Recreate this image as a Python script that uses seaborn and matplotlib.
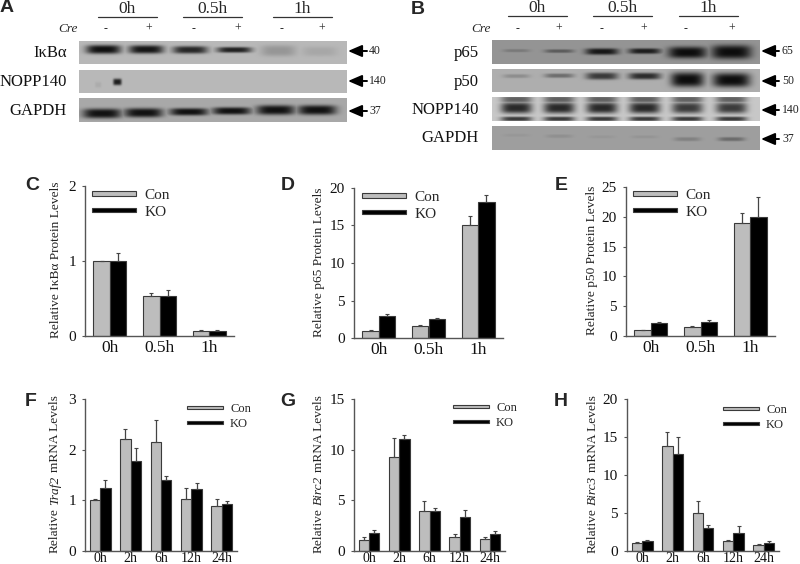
import numpy as np
import pandas as pd
import matplotlib
matplotlib.use('Agg')
import matplotlib.pyplot as plt
import seaborn as sns

W, H = 800, 564

sns.set_style('ticks')
plt.rcParams['font.family'] = ['Liberation Serif', 'DejaVu Serif']

# dane do wykresow
groups = ['Con', 'KO']
t3 = ['0h', '0.5h', '1h']
t5 = ['0h', '2h', '6h', '12h', '24h']

c_con = [1.0, 0.53, 0.07]
c_ko = [1.0, 0.53, 0.07]
c_con_err = [0.0, 0.05, 0.01]
c_ko_err = [0.11, 0.09, 0.015]

d_con = [1.0, 1.55, 15.1]
d_ko = [3.0, 2.6, 18.1]
d_con_err = [0.1, 0.25, 1.2]
d_ko_err = [0.2, 0.1, 0.9]

e_con = [1.0, 1.45, 19.0]
e_ko = [2.1, 2.4, 20.0]
e_con_err = [0.05, 0.3, 1.6]
e_ko_err = [0.2, 0.3, 3.3]

f_con = [1.0, 2.22, 2.15, 1.03, 0.88]
f_ko = [1.25, 1.78, 1.40, 1.22, 0.92]
f_con_err = [0.02, 0.18, 0.43, 0.22, 0.14]
f_ko_err = [0.15, 0.25, 0.08, 0.13, 0.07]

g_con = [1.1, 9.25, 3.95, 1.4, 1.2]
g_ko = [1.75, 11.1, 3.95, 3.4, 1.67]
g_con_err = [0.25, 1.95, 1.0, 0.27, 0.15]
g_ko_err = [0.35, 0.3, 0.3, 0.65, 0.3]

h_con = [1.05, 13.8, 5.0, 1.3, 0.85]
h_ko = [1.3, 12.8, 3.0, 2.4, 1.1]
h_con_err = [0.15, 1.8, 1.6, 0.12, 0.1]
h_ko_err = [0.15, 2.2, 0.4, 0.85, 0.2]

# bloty: tlo, polozenie prazkow (0-1), ciemnosc, szerokosc, wysokosc, y
a_lanes = [0.09, 0.25, 0.415, 0.58, 0.745, 0.90]
b_lanes = [0.09, 0.25, 0.41, 0.57, 0.73, 0.895]

blots_a = {
    'IκBα': (0.72, a_lanes, [0.98, 0.95, 0.85, 0.88, 0.20, 0.10], 0.065, [0.2, 0.19, 0.17, 0.13, 0.25, 0.22], [0.36, 0.36, 0.38, 0.38, 0.42, 0.45]),
    'NOPP140': (0.72, [0.07, 0.142], [0.07, 0.9], [0.012, 0.016], [0.13, 0.15], [0.65, 0.52]),
    'GAPDH': (0.66, [0.085, 0.24, 0.41, 0.57, 0.735, 0.89], [0.97] * 6, 0.072, [0.21, 0.2, 0.16, 0.16, 0.21, 0.21], [0.65, 0.62, 0.58, 0.54, 0.50, 0.50]),
}
blots_b = {
    'p65': (0.58, b_lanes, [0.2, 0.42, 0.93, 0.88, 1.0, 1.0], [0.05, 0.055, 0.062, 0.06, 0.072, 0.075], [0.07, 0.08, 0.14, 0.12, 0.25, 0.3], [0.44, 0.46, 0.48, 0.46, 0.52, 0.50]),
    'p50': (0.68, b_lanes, [0.2, 0.4, 0.72, 0.8, 1.0, 1.0], [0.05, 0.055, 0.06, 0.06, 0.062, 0.07], [0.09, 0.1, 0.16, 0.15, 0.33, 0.32], [0.30, 0.28, 0.30, 0.30, 0.46, 0.48]),
    'NOPP140': (0.78, b_lanes * 3, [0.85, 0.85, 0.85, 0.85, 0.75, 0.75] + [0.55] * 6 + [0.75] * 6, 0.058,
                [0.24] * 6 + [0.16] * 6 + [0.1] * 6, [0.45] * 6 + [0.08] * 6 + [0.93] * 6),
    'GAPDH': (0.62, b_lanes, [0.05, 0.10, 0.05, 0.07, 0.2, 0.35], 0.05, [0.07, 0.08, 0.07, 0.07, 0.09, 0.09], [0.38, 0.42, 0.45, 0.45, 0.55, 0.55]),
}

fig = plt.figure(figsize=(W / 100, H / 100), dpi=100, facecolor='white')

# warstwa z opisami, wspolrzedne w pikselach
ov = fig.add_axes([0, 0, 1, 1], zorder=10)
ov.set_xlim(0, W)
ov.set_ylim(H, 0)
ov.axis('off')
ov.patch.set_alpha(0)


def px_axes(x0, y0, x1, y1):
    # y liczone od gory, jak na obrazku
    return fig.add_axes([x0 / W, 1 - y1 / H, (x1 - x0) / W, (y1 - y0) / H])


def draw_blot(box, spec):
    bg, xs, dark, wid, hgt, yc = spec
    n = len(xs)
    dark = np.asarray(dark, float)
    wid = np.broadcast_to(wid, n)
    hgt = np.broadcast_to(hgt, n)
    yc = np.broadcast_to(yc, n)
    nx, ny = box[2] - box[0], box[3] - box[1]
    xx, yy = np.meshgrid(np.linspace(0, 1, nx), np.linspace(0, 1, ny))
    ink = np.zeros_like(xx)
    for i in range(n):
        part = dark[i] * np.exp(-((xx - xs[i]) / wid[i]) ** 4 - np.abs((yy - yc[i]) / hgt[i]) ** 3)
        ink = np.maximum(ink, part)
    img = bg * (1 - ink) + 0.05 * ink
    ax = px_axes(*box)
    sns.heatmap(img, ax=ax, cmap='gray', vmin=0, vmax=1, cbar=False, xticklabels=False, yticklabels=False)
    ax.set_xlabel('')
    ax.set_ylabel('')
    return ax


def rotated_label(pieces, x, y_mid, fs):
    # etykieta osi y z kursywa w srodku, kawalki ukladane od dolu
    rend = fig.canvas.get_renderer()
    gap = 0.25 * fs * 100 / 72
    items = [ov.text(x, 0, t, style=st, fontsize=fs, rotation=90, ha='center', va='bottom', color='#222222') for t, st in pieces]
    sizes = [it.get_window_extent(rend).height for it in items]
    y = y_mid + (sum(sizes) + gap * (len(items) - 1)) / 2
    for it, s in zip(items, sizes):
        it.set_y(y)
        y -= s + gap


def bar_panel(box, cats, con, ko, con_err, ko_err, ymax, yticks, ylab, lab_x, leg_xy, xtick_fs, leg_fs, width, xpad, spacing):
    df = pd.DataFrame({
        'czas': cats * 2,
        'grupa': [groups[0]] * len(cats) + [groups[1]] * len(cats),
        'wartosc': list(con) + list(ko),
    })
    ax = px_axes(*box)
    sns.barplot(data=df, x='czas', y='wartosc', hue='grupa', order=cats, hue_order=groups,
                palette=['#bdbdbd', '#000000'], errorbar=None, width=width, gap=0,
                edgecolor='#3a3a3a', linewidth=0.8, saturation=1, ax=ax)
    for cont, errs in zip(ax.containers, [con_err, ko_err]):
        xs = [p.get_x() + p.get_width() / 2 for p in cont.patches]
        ys = [p.get_height() for p in cont.patches]
        ax.errorbar(xs, ys, yerr=[np.zeros(len(errs)), errs], fmt='none', ecolor='#444444',
                    elinewidth=0.9, capsize=1.5, capthick=0.8)
    ax.set_ylim(0, ymax)
    ax.set_xlim(-0.5, len(cats) - 0.5)
    ax.set_yticks(yticks)
    ax.set_xlabel('')
    ax.set_ylabel('')
    rotated_label(ylab, lab_x, (box[1] + box[3]) / 2 - 1, 9.6)
    ax.tick_params(axis='x', length=0, labelsize=xtick_fs, pad=xpad, labelcolor='#111111')
    ax.tick_params(axis='y', length=2.5, width=0.8, color='#555555', labelsize=11, pad=4, labelcolor='#111111')
    sns.despine(ax=ax)
    for s in ['left', 'bottom']:
        ax.spines[s].set_color('#555555')
        ax.spines[s].set_linewidth(1.0)
    sns.move_legend(ax, 'upper left', bbox_to_anchor=(leg_xy[0] / W, 1 - leg_xy[1] / H),
                    bbox_transform=fig.transFigure, frameon=False, title=None, fontsize=leg_fs,
                    borderpad=0, borderaxespad=0, handlelength=2.9,
                    handleheight=0.05, handletextpad=0.55, labelspacing=spacing)
    return ax


# bloty
for (name, spec), box in zip(blots_a.items(), [(79, 41, 347, 64), (79, 70, 347, 93), (79, 98, 347, 122)]):
    draw_blot(box, spec)
for (name, spec), box in zip(blots_b.items(), [(492, 40, 760, 64), (492, 69, 760, 92), (492, 97, 760, 121), (492, 126, 760, 150)]):
    draw_blot(box, spec)

# slupki
fig.canvas.draw()
bar_panel((85, 186, 234, 336), t3, c_con, c_ko, c_con_err, c_ko_err, 2, [0, 1, 2],
          [('Relative IκBα Protein Levels', 'normal')], 56, (92, 189), 12.5, 11, 0.66, 3, 0.25)
bar_panel((354, 188, 503, 338), t3, d_con, d_ko, d_con_err, d_ko_err, 20, [0, 5, 10, 15, 20],
          [('Relative p65 Protein Levels', 'normal')], 319, (362, 191), 12.5, 11, 0.66, 3, 0.25)
bar_panel((626, 187, 775, 336), t3, e_con, e_ko, e_con_err, e_ko_err, 25, [0, 5, 10, 15, 20, 25],
          [('Relative p50 Protein Levels', 'normal')], 592, (633, 189), 12.5, 11, 0.66, 3, 0.25)
bar_panel((85, 399, 237, 551), t5, f_con, f_ko, f_con_err, f_ko_err, 3, [0, 1, 2, 3],
          [('Relative', 'normal'), ('Traf2', 'italic'), ('mRNA Levels', 'normal')], 55, (187, 403), 10, 9, 0.68, 0.5, 0.25)
bar_panel((354, 399, 505, 551), t5, g_con, g_ko, g_con_err, g_ko_err, 15, [0, 5, 10, 15],
          [('Relative', 'normal'), ('Birc2', 'italic'), ('mRNA Levels', 'normal')], 319, (453, 402), 10, 9, 0.68, 0.5, 0.25)
bar_panel((627, 399, 779, 551), t5, h_con, h_ko, h_con_err, h_ko_err, 20, [0, 5, 10, 15, 20],
          [('Relative', 'normal'), ('Birc3', 'italic'), ('mRNA Levels', 'normal')], 593, (723, 404), 10, 9, 0.68, 0.5, 0.25)

for txt, x, y in [('A', 7, 8), ('B', 418, 9), ('C', 32, 186), ('D', 288, 186), ('E', 561, 186),
                  ('F', 31, 401), ('G', 288, 401), ('H', 561, 401)]:
    ov.text(x, y, txt, family='Liberation Sans', weight='bold', fontsize=14, ha='center', va='center')


def blot_header(spans, signs_x, cre_x, line_y):
    for (x0, x1), lab in zip(spans, t3):
        ov.plot([x0, x1], [line_y, line_y], color='#333333', lw=0.9)
        ov.text((x0 + x1) / 2, line_y - 8, lab, fontsize=12.5, ha='center', va='center')
    for i, x in enumerate(signs_x):
        ov.text(x, 29, '-' if i % 2 == 0 else '+', fontsize=8.5, ha='center', va='center')
    ov.text(cre_x, 29, 'Cre', style='italic', fontsize=9.5, ha='center', va='center')


blot_header([(98, 157), (183, 242), (273, 332)], [105, 149, 194, 238, 282, 322], 68, 17)
blot_header([(508, 567), (593, 652), (679, 738)], [518, 559, 602, 644, 686, 732], 481, 16)


def blot_labels(names, label_x, label_ys, tip, tail, arrow_ys, sizes, size_x):
    for name, y in zip(names, label_ys):
        ov.text(label_x, y, name, fontsize=12, ha='right', va='center', color='#111111')
    for y, s in zip(arrow_ys, sizes):
        ov.annotate('', xy=(tip, y), xytext=(tail, y),
                    arrowprops=dict(arrowstyle='-|>,head_width=0.3,head_length=0.7', mutation_scale=12,
                                    color='black', lw=1.4, shrinkA=0, shrinkB=0))
        ov.text(size_x, y, s, fontsize=8.5, ha='left', va='center', color='#222222')


blot_labels(list(blots_a.keys()), 67, [53, 82, 111], 348, 367, [51, 81, 111], ['40', '140', '37'], 369)
blot_labels(list(blots_b.keys()), 479, [53, 82, 110, 138], 761, 779, [51, 81, 110, 139], ['65', '50', '140', '37'], 782)

fig.savefig('out.png', dpi=100)
